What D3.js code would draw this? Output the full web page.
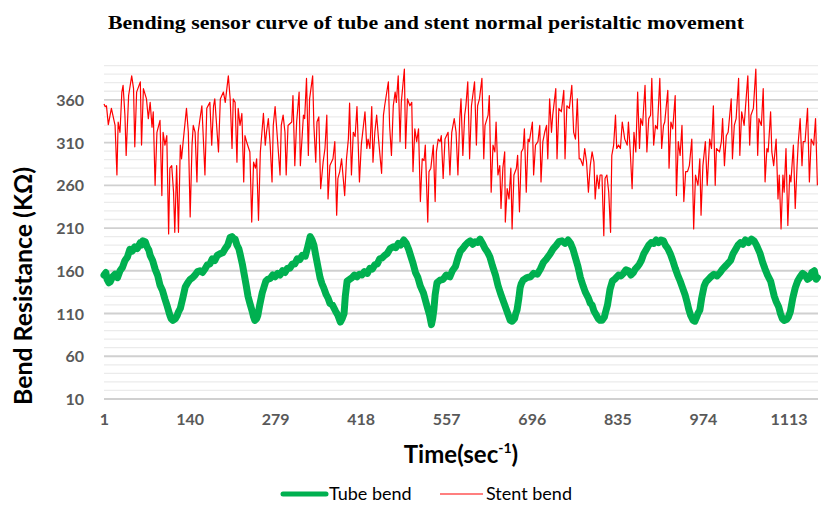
<!DOCTYPE html>
<html><head><meta charset="utf-8">
<script src="https://cdn.jsdelivr.net/npm/d3@7/dist/d3.min.js"></script>
<style>body{margin:0;background:#fff}svg{display:block}</style>
</head><body>
<svg id="c" width="821" height="507"></svg>
<script>
const titleText = "Bending sensor curve of tube and stent normal peristaltic movement";
const yTicks = [10, 60, 110, 160, 210, 260, 310, 360];
const xTicks = [1, 140, 279, 418, 557, 696, 835, 974, 1113];
const seriesNames = ["Tube bend", "Stent bend"];

const tubeTime = [1,4,6,9,11,15,19,23,27,31,35,39,43,47,51,55,60,62,64,68,71,74,76,80,84,88,92,96,100,104,108,110,113,117,120,122,125,129,133,137,141,145,149,153,157,161,165,169,173,177,181,185,190,194,198,202,206,209,211,214,217,220,222,226,229,232,235,238,242,244,246,249,251,254,258,261,264,267,271,275,279,283,287,291,295,299,303,307,311,315,319,323,328,332,336,339,342,345,349,352,355,358,362,365,368,372,377,381,385,388,391,393,396,400,404,408,412,416,420,424,429,433,437,441,445,449,453,457,461,466,471,475,479,483,488,492,496,499,503,507,511,515,520,523,526,530,533,535,537,539,542,547,552,557,563,567,572,576,580,584,588,592,596,600,604,608,612,616,620,624,628,632,637,641,645,649,653,657,661,664,668,670,672,675,677,679,682,688,694,699,705,710,715,720,726,731,736,740,745,750,755,759,763,767,771,775,779,783,788,791,794,797,801,804,807,810,814,816,819,823,827,832,837,841,845,849,853,857,861,864,868,871,874,878,882,886,890,894,898,902,906,910,913,917,921,925,929,933,937,941,945,948,951,954,958,961,964,966,969,972,976,979,983,987,992,997,1002,1006,1010,1014,1019,1023,1027,1031,1035,1039,1043,1048,1053,1057,1061,1064,1067,1071,1075,1079,1084,1087,1090,1093,1097,1100,1103,1106,1110,1113,1116,1120,1124,1128,1132,1136,1140,1144,1148,1151,1155,1158,1160];
const tubeValue = [155,158,150,146,147,153,156,152,160,164,172,176,185,183,188,186,193,190,195,194,188,184,178,172,162,155,143,137,127,118,108,104,102,104,108,112,116,128,141,146,150,152,155,159,160,158,162,167,168,174,172,178,180,181,186,190,199,200,198,197,190,186,180,167,155,143,130,122,112,106,102,104,108,120,134,141,148,150,151,155,153,157,155,160,158,163,163,168,168,174,173,178,177,188,200,196,190,178,163,152,145,140,132,128,122,120,113,108,100,104,110,130,148,150,152,155,153,156,155,159,157,163,162,167,168,174,175,178,180,186,188,187,192,190,196,192,185,178,169,158,152,142,134,126,118,108,97,104,115,132,146,149,150,155,153,160,165,175,183,186,190,193,195,191,194,193,197,192,186,182,176,166,155,143,134,126,118,110,102,101,104,110,114,128,140,145,149,152,153,157,156,162,170,174,180,186,190,194,195,192,196,192,185,175,165,152,143,135,128,122,120,113,108,104,102,102,106,112,120,138,148,151,155,154,157,161,160,155,158,162,165,168,172,180,185,190,193,192,196,193,196,195,190,186,180,172,163,155,148,140,132,124,115,108,102,101,106,110,114,128,142,147,150,153,156,154,158,162,165,168,172,180,185,190,193,191,196,193,197,195,190,185,180,170,162,155,148,139,130,124,118,110,104,102,103,106,112,128,140,148,153,157,155,150,152,158,160,150,152];

const stentTime = [1,3,5,8,13,19,22,24,27,30,32,35,37,41,46,49,51,54,60,62,65,70,73,76,79,81,84,87,92,95,97,100,103,106,108,111,114,116,119,122,125,127,130,135,138,141,144,146,149,152,154,157,160,165,168,173,176,179,181,187,190,195,198,203,206,209,211,214,217,219,222,225,228,230,233,238,241,244,247,249,252,255,260,263,265,268,271,274,276,279,282,
287,289,292,295,297,300,306,308,311,314,318,320,325,327,330,333,335,340,342,345,347,350,353,357,360,363,365,368,373,376,379,381,384,387,392,395,398,400,403,406,409,412,416,419,425,428,430,433,436,438,441,444,447,452,455,457,463,465,468,471,474,476,479,482,484,489,491,494,498,501,503,506,509,512,515,518,521,523,527,529,532,536,539,541,544,547,549,552,555,560,563,566,570,
573,576,579,581,584,587,589,592,595,598,603,606,608,611,615,618,620,625,627,630,633,636,638,641,644,646,649,652,653,656,659,662,664,667,671,673,676,679,682,684,687,690,692,697,699,702,706,709,711,714,717,720,722,725,728,730,735,737,740,744,748,750,753,757,761,764,767,770,773,775,779,782,785,788,791,794,797,799,802,805,807,810,813,815,818,821,824,826,829,832,834,837,840,843,847,851,853,856,859,862,
865,868,871,873,876,880,883,886,889,891,894,897,900,904,907,910,912,917,919,922,925,929,931,934,937,940,943,946,949,952,956,959,962,966,969,971,974,978,981,985,988,991,994,996,1001,1004,1006,1009,1012,1015,1020,1022,1025,1028,1032,1034,1037,1041,1047,1050,1052,1056,1060,1063,1065,1069,1072,1075,1078,1080,1084,1086,1089,1093,1096,1098,1101,1104,1106,1109,1112,1115,1117,1121,1124,1127,1129,1132,1135,1137,1140,1144,1147,1150,1154,1157,1160];
const stentValue = [355,352,353,331,350,330,272,334,322,369,377,342,295,365,388,373,305,369,381,307,373,361,338,357,328,346,260,322,336,248,322,307,318,203,280,283,252,205,283,205,307,291,314,350,322,223,307,330,322,264,322,338,353,272,350,357,307,353,361,299,361,369,357,388,361,303,361,357,287,350,330,344,264,318,310,299,217,287,280,291,219,299,344,307,322,338,307,264,330,352,322,
272,330,342,322,272,330,334,365,283,334,369,283,342,338,385,295,361,388,330,287,334,340,256,287,303,342,244,283,291,311,225,268,276,291,248,291,314,356,272,322,317,352,264,307,346,303,314,303,352,287,322,342,314,274,342,353,381,330,295,353,369,357,388,311,357,396,303,361,353,357,276,326,311,326,241,291,289,307,217,276,280,307,241,299,314,311,318,268,314,322,272,322,338,
322,272,338,361,295,342,353,381,291,353,381,307,353,361,385,291,330,342,365,252,307,299,334,272,283,233,280,299,217,256,244,280,209,272,280,295,229,299,303,326,252,314,311,334,272,307,311,330,264,311,322,330,291,361,322,342,373,291,350,346,371,291,353,350,377,322,314,361,291,291,283,303,287,252,283,299,287,244,272,256,272,272,201,268,272,252,205,295,307,342,303,307,303,334,314,307,334,299,256,322,
299,369,303,338,330,377,299,338,342,385,307,330,326,385,303,330,334,371,280,334,326,365,248,311,295,330,241,276,276,283,314,209,272,260,291,225,283,311,260,314,303,353,260,303,299,311,338,283,318,322,361,291,330,338,385,295,346,330,388,307,342,350,396,295,338,330,373,264,303,299,346,299,283,314,244,272,209,272,252,303,213,272,264,307,233,283,311,338,283,311,311,350,264,314,307,338,260];

const svg = d3.select("#c");
const x = d3.scaleLinear().domain([1, 1161]).range([104, 818]);
const y = d3.scaleLinear().domain([10, 400]).range([399, 65.6]);
const font = "Lato, 'Open Sans', sans-serif";

// gridlines
const gridVals = d3.range(10, 401, 10);
svg.append("g").selectAll("line").data(gridVals).join("line")
  .attr("x1", x.range()[0]).attr("x2", x.range()[1])
  .attr("y1", d => y(d)).attr("y2", d => y(d))
  .attr("stroke", d => yTicks.includes(d) ? "#d0d0d0" : "#ebebeb")
  .attr("stroke-width", d => yTicks.includes(d) ? 1.8 : 1.3);

// y axis labels
const yAxis = d3.axisLeft(y).tickValues(yTicks).tickFormat(d3.format("d")).tickSize(0).tickPadding(0);
const gy = svg.append("g").attr("transform", "translate(84,0)").call(yAxis);
gy.select(".domain").remove();
gy.selectAll("text").attr("font-family", font).attr("font-weight", "bold")
  .attr("font-size", 16).attr("fill", "#595959").attr("dy", "0.35em");

// x axis labels
const xAxis = d3.axisBottom(x).tickValues(xTicks).tickFormat(d3.format("d")).tickSize(0).tickPadding(0);
const gx = svg.append("g").attr("transform", "translate(0,414)").call(xAxis);
gx.select(".domain").remove();
gx.selectAll("text").attr("font-family", font).attr("font-weight", "bold")
  .attr("font-size", 16).attr("fill", "#595959").attr("dy", "0.71em");

// lines
const stent = stentTime.map((t, i) => [t, stentValue[i]]);
const tube = tubeTime.map((t, i) => [t, tubeValue[i]]);
const line = d3.line().x(d => x(d[0])).y(d => y(d[1]));
svg.append("path").attr("d", line(stent)).attr("fill", "none")
  .attr("stroke", "#ff0000").attr("stroke-width", 1.2).attr("stroke-linejoin", "round");
svg.append("path").attr("d", line(tube)).attr("fill", "none")
  .attr("stroke", "#00b050").attr("stroke-width", 7).attr("stroke-linejoin", "round").attr("stroke-linecap", "round");

// title
svg.append("text").attr("x", 426).attr("y", 29).attr("text-anchor", "middle")
  .attr("font-family", "'Liberation Serif', 'Times New Roman', serif").attr("font-weight", "bold")
  .attr("font-size", 18).attr("fill", "#000")
  .attr("textLength", 636).attr("lengthAdjust", "spacingAndGlyphs")
  .text(titleText);

// y title
svg.append("text").attr("transform", "translate(32,286) rotate(-90)").attr("text-anchor", "middle")
  .attr("font-family", font).attr("font-weight", "bold").attr("font-size", 25).attr("fill", "#000")
  .attr("textLength", 238).attr("lengthAdjust", "spacingAndGlyphs")
  .text("Bend Resistance (KΩ)");

// x title
const xt = svg.append("text").attr("x", 461).attr("y", 463).attr("text-anchor", "middle")
  .attr("font-family", font).attr("font-weight", "bold").attr("font-size", 24).attr("fill", "#000");
xt.append("tspan").text("Time(sec");
xt.append("tspan").attr("font-size", 14).attr("dy", -10).text("-1");
xt.append("tspan").attr("dy", 10).text(")");

// legend
const lg = svg.append("g");
lg.append("line").attr("x1", 283).attr("x2", 326).attr("y1", 494).attr("y2", 494)
  .attr("stroke", "#00b050").attr("stroke-width", 5).attr("stroke-linecap", "round");
lg.append("text").attr("x", 329).attr("y", 500).attr("font-family", font).attr("font-size", 18)
  .attr("fill", "#000").text(seriesNames[0]);
lg.append("line").attr("x1", 440).attr("x2", 483).attr("y1", 494).attr("y2", 494)
  .attr("stroke", "#ff0000").attr("stroke-width", 1.2);
lg.append("text").attr("x", 486).attr("y", 500).attr("font-family", font).attr("font-size", 18)
  .attr("fill", "#000").text(seriesNames[1]);
</script>
</body></html>
